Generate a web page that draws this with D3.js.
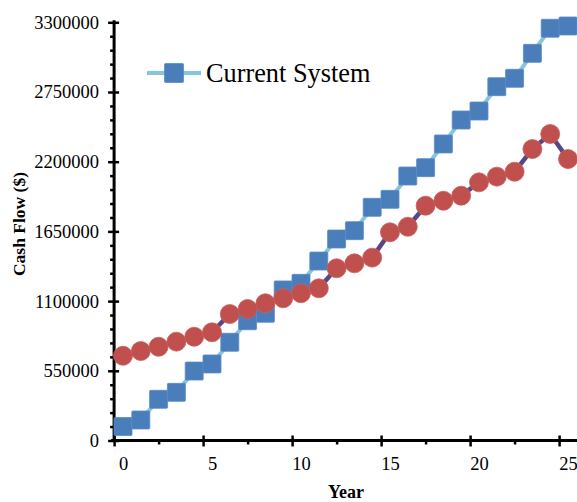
<!DOCTYPE html>
<html>
<head>
<meta charset="utf-8">
<script src="https://cdn.jsdelivr.net/npm/d3@7"></script>
<style>
  html, body { margin: 0; padding: 0; background: #fff; }
  svg { display: block; }
  text { font-family: "Liberation Serif", "Times New Roman", serif; fill: #000; }
</style>
</head>
<body>
<svg id="chart" width="577" height="502"></svg>
<script>
// Years on the horizontal axis
const years = d3.range(0, 26);
// Cash flow of the current system ($)
const currentSystem = [110000, 162000, 325000, 380000, 548000, 604000, 775000, 945000, 1004000, 1188000,
  1240000, 1416000, 1590000, 1656000, 1840000, 1903000, 2087000, 2153000, 2340000, 2529000,
  2600000, 2792000, 2858000, 3055000, 3253000, 3271000];
// Cash flow of the second system ($)
const secondSystem = [669000, 706000, 740000, 780000, 819000, 854000, 998000, 1038000, 1083000, 1122000,
  1162000, 1201000, 1359000, 1398000, 1443000, 1643000, 1687000, 1853000, 1892000, 1932000,
  2037000, 2082000, 2121000, 2300000, 2419000, 2221000];
// Axis ticks
const yMajorTicks = [0, 550000, 1100000, 1650000, 2200000, 2750000, 3300000];
const yMinorTicks = d3.range(0, 3300001, 110000).filter(v => v % 550000 !== 0);
const xLabelTicks = [0, 5, 10, 15, 20, 25];
const xMajorTicks = [-0.5, 4.5, 9.5, 14.5, 19.5, 24.5];
const xMinorTicks = [2, 7, 12, 17, 22];

const svg = d3.select("#chart");
const x = d3.scaleLinear().domain([0, 25]).range([123, 568]);
const y = d3.scaleLinear().domain([0, 3300000]).range([440.5, 22.3]);
const x0 = x(-0.5), yBase = y(0);

// ---- axes ----
const axes = svg.append("g");

// y minor ticks (outside only)
axes.append("g").attr("transform", `translate(${x0},0)`)
  .call(d3.axisLeft(y).tickValues(yMinorTicks).tickSize(4).tickFormat(""))
  .call(g => g.select(".domain").remove())
  .call(g => g.selectAll("line").attr("stroke", "#000").attr("stroke-width", 2.5));

// y major ticks (crossing) with labels
axes.append("g").attr("transform", `translate(${x0},0)`)
  .call(d3.axisLeft(y).tickValues(yMajorTicks).tickSize(6).tickPadding(9).tickFormat(d3.format("d")))
  .call(g => g.select(".domain").remove())
  .call(g => g.selectAll("line").attr("x1", 5).attr("stroke", "#000").attr("stroke-width", 2.5))
  .call(g => g.selectAll("text").attr("font-family", "Liberation Serif").attr("font-size", 18.5).attr("fill", "#000"));

// x minor ticks
axes.append("g").attr("transform", `translate(0,${yBase})`)
  .call(d3.axisBottom(x).tickValues(xMinorTicks).tickSize(4).tickFormat(""))
  .call(g => g.select(".domain").remove())
  .call(g => g.selectAll("line").attr("stroke", "#000").attr("stroke-width", 2.5));

// x major ticks (crossing)
axes.append("g").attr("transform", `translate(0,${yBase})`)
  .call(d3.axisBottom(x).tickValues(xMajorTicks).tickSize(6).tickFormat(""))
  .call(g => g.select(".domain").remove())
  .call(g => g.selectAll("line").attr("y1", -5).attr("stroke", "#000").attr("stroke-width", 2.5));

// x labels at the year positions
axes.append("g").attr("transform", `translate(0,${yBase})`)
  .call(d3.axisBottom(x).tickValues(xLabelTicks).tickSize(0).tickPadding(16).tickFormat(d3.format("d")))
  .call(g => g.select(".domain").remove())
  .call(g => g.selectAll("text").attr("font-family", "Liberation Serif").attr("font-size", 18.5).attr("fill", "#000"));

// axis lines
axes.append("line").attr("x1", x0).attr("x2", x0).attr("y1", y(3300000) - 2).attr("y2", yBase + 1.5)
  .attr("stroke", "#000").attr("stroke-width", 3);
axes.append("line").attr("x1", x0 - 3).attr("x2", 577).attr("y1", yBase).attr("y2", yBase)
  .attr("stroke", "#000").attr("stroke-width", 3);

// axis titles
svg.append("text").attr("x", 346).attr("y", 498).attr("text-anchor", "middle")
  .attr("font-weight", "bold").attr("font-size", 18).text("Year");
svg.append("text").attr("transform", "translate(24.5,224) rotate(-90)").attr("text-anchor", "middle")
  .attr("font-weight", "bold").attr("font-size", 17.5).text("Cash Flow ($)");

// ---- series ----
const line = d3.line().x((d, i) => x(years[i])).y(d => y(d));

const blueLine = "#86c6dd", blueMark = "#4a7ebb";
const purpleLine = "#5b4685", redMark = "#c0504d";
const sq = 18, r = 9.5;

svg.append("path").datum(currentSystem).attr("d", line)
  .attr("fill", "none").attr("stroke", blueLine).attr("stroke-width", 4);
svg.append("g").selectAll("rect").data(currentSystem).join("rect")
  .attr("x", (d, i) => x(years[i]) - sq / 2).attr("y", d => y(d) - sq / 2)
  .attr("width", sq).attr("height", sq).attr("rx", 1)
  .attr("fill", blueMark).attr("stroke", "#5a8cc6").attr("stroke-width", 0.8);

svg.append("path").datum(secondSystem).attr("d", line)
  .attr("fill", "none").attr("stroke", purpleLine).attr("stroke-width", 4.5);
svg.append("g").selectAll("circle").data(secondSystem).join("circle")
  .attr("cx", (d, i) => x(years[i])).attr("cy", d => y(d)).attr("r", r)
  .attr("fill", redMark).attr("stroke", "#c85f5c").attr("stroke-width", 0.8);

// ---- legend ----
const lg = svg.append("g").attr("transform", "translate(147,73)");
lg.append("line").attr("x1", 0).attr("x2", 54).attr("y1", 0).attr("y2", 0)
  .attr("stroke", blueLine).attr("stroke-width", 4);
lg.append("rect").attr("x", 27 - 9.5).attr("y", -9.5).attr("width", 19).attr("height", 19).attr("rx", 1)
  .attr("fill", blueMark).attr("stroke", "#5a8cc6").attr("stroke-width", 0.8);
lg.append("text").attr("x", 59).attr("y", 8.5).attr("font-size", 26.3).text("Current System");
</script>
</body>
</html>
